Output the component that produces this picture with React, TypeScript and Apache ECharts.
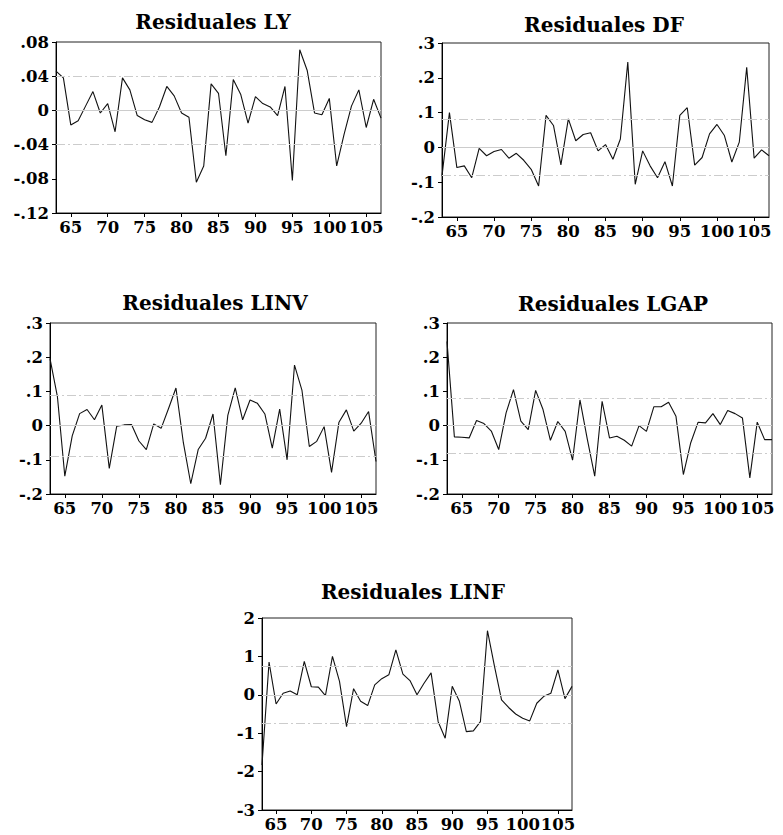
import React, { useEffect, useRef } from "react";
import * as echarts from "echarts";

const years = [63, 64, 65, 66, 67, 68, 69, 70, 71, 72, 73, 74, 75, 76, 77, 78, 79, 80, 81, 82, 83, 84, 85, 86, 87, 88, 89, 90, 91, 92, 93, 94, 95, 96, 97, 98, 99, 100, 101, 102, 103, 104, 105, 106, 107];
const xTickLabels = [65, 70, 75, 80, 85, 90, 95, 100, 105];

const titles = ["Residuales LY", "Residuales DF", "Residuales LINV", "Residuales LGAP", "Residuales LINF"];

const lyValues = [0.046, 0.038, -0.017, -0.012, 0.005, 0.022, -0.003, 0.008, -0.025, 0.038, 0.024, -0.006, -0.011, -0.014, 0.004, 0.028, 0.017, -0.003, -0.008, -0.084, -0.065, 0.031, 0.02, -0.053, 0.036, 0.019, -0.015, 0.016, 0.008, 0.004, -0.006, 0.028, -0.082, 0.071, 0.047, -0.003, -0.005, 0.014, -0.065, -0.028, 0.005, 0.024, -0.02, 0.013, -0.009];
const dfValues = [-0.082, 0.1, -0.058, -0.053, -0.087, -0.003, -0.024, -0.012, -0.006, -0.031, -0.017, -0.037, -0.063, -0.111, 0.092, 0.063, -0.05, 0.082, 0.019, 0.037, 0.042, -0.01, 0.008, -0.034, 0.024, 0.245, -0.106, -0.01, -0.053, -0.087, -0.041, -0.111, 0.092, 0.114, -0.051, -0.029, 0.039, 0.066, 0.034, -0.042, 0.015, 0.23, -0.031, -0.007, -0.024];
const linvValues = [0.196, 0.085, -0.148, -0.03, 0.035, 0.047, 0.017, 0.06, -0.125, -0.002, 0.002, 0.003, -0.045, -0.07, 0.005, -0.008, 0.05, 0.11, -0.05, -0.17, -0.07, -0.037, 0.034, -0.173, 0.03, 0.11, 0.017, 0.075, 0.065, 0.034, -0.066, 0.048, -0.1, 0.177, 0.104, -0.061, -0.046, -0.003, -0.137, 0.01, 0.046, -0.016, 0.007, 0.041, -0.105];
const lgapValues = [0.246, -0.033, -0.034, -0.036, 0.015, 0.006, -0.016, -0.07, 0.037, 0.105, 0.013, -0.012, 0.103, 0.047, -0.043, 0.012, -0.017, -0.101, 0.075, -0.04, -0.148, 0.071, -0.036, -0.031, -0.043, -0.06, 0.0, -0.017, 0.055, 0.055, 0.068, 0.027, -0.143, -0.05, 0.01, 0.008, 0.035, 0.003, 0.044, 0.035, 0.022, -0.153, 0.01, -0.041, -0.041];
const linfValues = [-1.83, 0.85, -0.24, 0.04, 0.1, 0.0, 0.87, 0.21, 0.2, -0.02, 1.0, 0.35, -0.83, 0.16, -0.17, -0.28, 0.26, 0.42, 0.52, 1.17, 0.54, 0.37, 0.0, 0.3, 0.57, -0.7, -1.13, 0.22, -0.16, -0.96, -0.94, -0.7, 1.67, 0.74, -0.13, -0.33, -0.5, -0.61, -0.68, -0.22, -0.04, 0.04, 0.65, -0.1, 0.22];

const sigmaBands = [0.035, 0.083, 0.09, 0.08, 0.75];
const yMins = [-0.12, -0.2, -0.2, -0.2, -3];
const yMaxs = [0.08, 0.3, 0.3, 0.3, 2];
const yIntervals = [0.04, 0.1, 0.1, 0.1, 1];

const seriesValues = [lyValues, dfValues, linvValues, lgapValues, linfValues];

// layout (pixels)
const grids = [
  { left: 56, top: 42, width: 325, height: 171 },
  { left: 442, top: 43, width: 327, height: 174 },
  { left: 50, top: 323, width: 326, height: 171 },
  { left: 447, top: 323, width: 325, height: 171 },
  { left: 262, top: 618, width: 310, height: 192 },
];
const titlePos = [
  [213, 22],
  [604, 25],
  [215, 303],
  [613, 304],
  [413, 592],
];

const FONT = "'DejaVu Serif', 'Liberation Serif', serif";

function fmtY(v: number, panel: number) {
  if (panel === 4) return String(Math.round(v));
  const r = Math.round(v * 100) / 100;
  if (r === 0) return "0";
  const s = String(Math.abs(r)).replace(/^0/, "");
  return (r < 0 ? "-" : "") + s;
}

export default function App() {
  const ref = useRef<HTMLDivElement>(null);
  useEffect(() => {
    if (!ref.current) return;
    const chart = echarts.init(ref.current, undefined, { renderer: "svg" });
    const xAxis: any[] = [];
    const yAxis: any[] = [];
    const series: any[] = [];
    const grid: any[] = [];
    grids.forEach((g, i) => {
      grid.push({
        ...g,
        show: true,
        borderColor: "#222",
        borderWidth: 1,
        backgroundColor: "#fff",
        containLabel: false,
        outerBoundsMode: "none",
      });
      xAxis.push({
        type: "value",
        gridIndex: i,
        min: 63,
        max: 107,
        axisLine: { show: true, onZero: false, lineStyle: { color: "#000", width: 1 } },
        axisTick: { show: true, inside: false, length: 4, customValues: xTickLabels, lineStyle: { color: "#000" } },
        axisLabel: {
          show: true,
          customValues: xTickLabels,
          margin: 6,
          color: "#000",
          fontFamily: FONT,
          fontWeight: "bold",
          fontSize: 16.5,
        },
        splitLine: { show: false },
      });
      yAxis.push({
        type: "value",
        gridIndex: i,
        min: yMins[i],
        max: yMaxs[i],
        interval: yIntervals[i],
        axisLine: { show: true, lineStyle: { color: "#000", width: 1 } },
        axisTick: { show: true, inside: false, length: 4, lineStyle: { color: "#000" } },
        axisLabel: {
          show: true,
          margin: 7,
          color: "#000",
          fontFamily: FONT,
          fontWeight: "bold",
          fontSize: 16.5,
          formatter: (v: number) => fmtY(v, i),
        },
        splitLine: { show: false },
      });
      const s = sigmaBands[i];
      series.push({
        type: "line",
        xAxisIndex: i,
        yAxisIndex: i,
        data: [],
        silent: true,
        z: 1,
        markLine: {
          silent: true,
          symbol: "none",
          label: { show: false },
          animation: false,
          data: [
            { yAxis: 0, lineStyle: { color: "#cccccc", width: 1.2, type: "solid" } },
            { yAxis: s, lineStyle: { color: "#cccccc", width: 1.2, type: [9, 3, 2, 3] } },
            { yAxis: -s, lineStyle: { color: "#cccccc", width: 1.2, type: [9, 3, 2, 3] } },
          ],
        },
      });
      series.push({
        type: "line",
        name: titles[i],
        xAxisIndex: i,
        yAxisIndex: i,
        data: years.map((y, k) => [y, seriesValues[i][k]]),
        showSymbol: false,
        symbol: "none",
        z: 3,
        lineStyle: { color: "#111", width: 1.1 },
      });
    });
    const graphic = titles.map((t, i) => ({
      type: "text",
      x: titlePos[i][0],
      y: titlePos[i][1],
      style: {
        text: t,
        align: "center",
        verticalAlign: "middle",
        fill: "#000",
        font: `bold 20px ${FONT}`,
      },
    }));
    chart.setOption({
      animation: false,
      backgroundColor: "#fff",
      grid,
      xAxis,
      yAxis,
      series,
      graphic,
    });
    return () => chart.dispose();
  }, []);
  return (
    <div
      ref={ref}
      style={{ position: "fixed", left: 0, top: 0, width: 783, height: 835, background: "#fff" }}
    />
  );
}
